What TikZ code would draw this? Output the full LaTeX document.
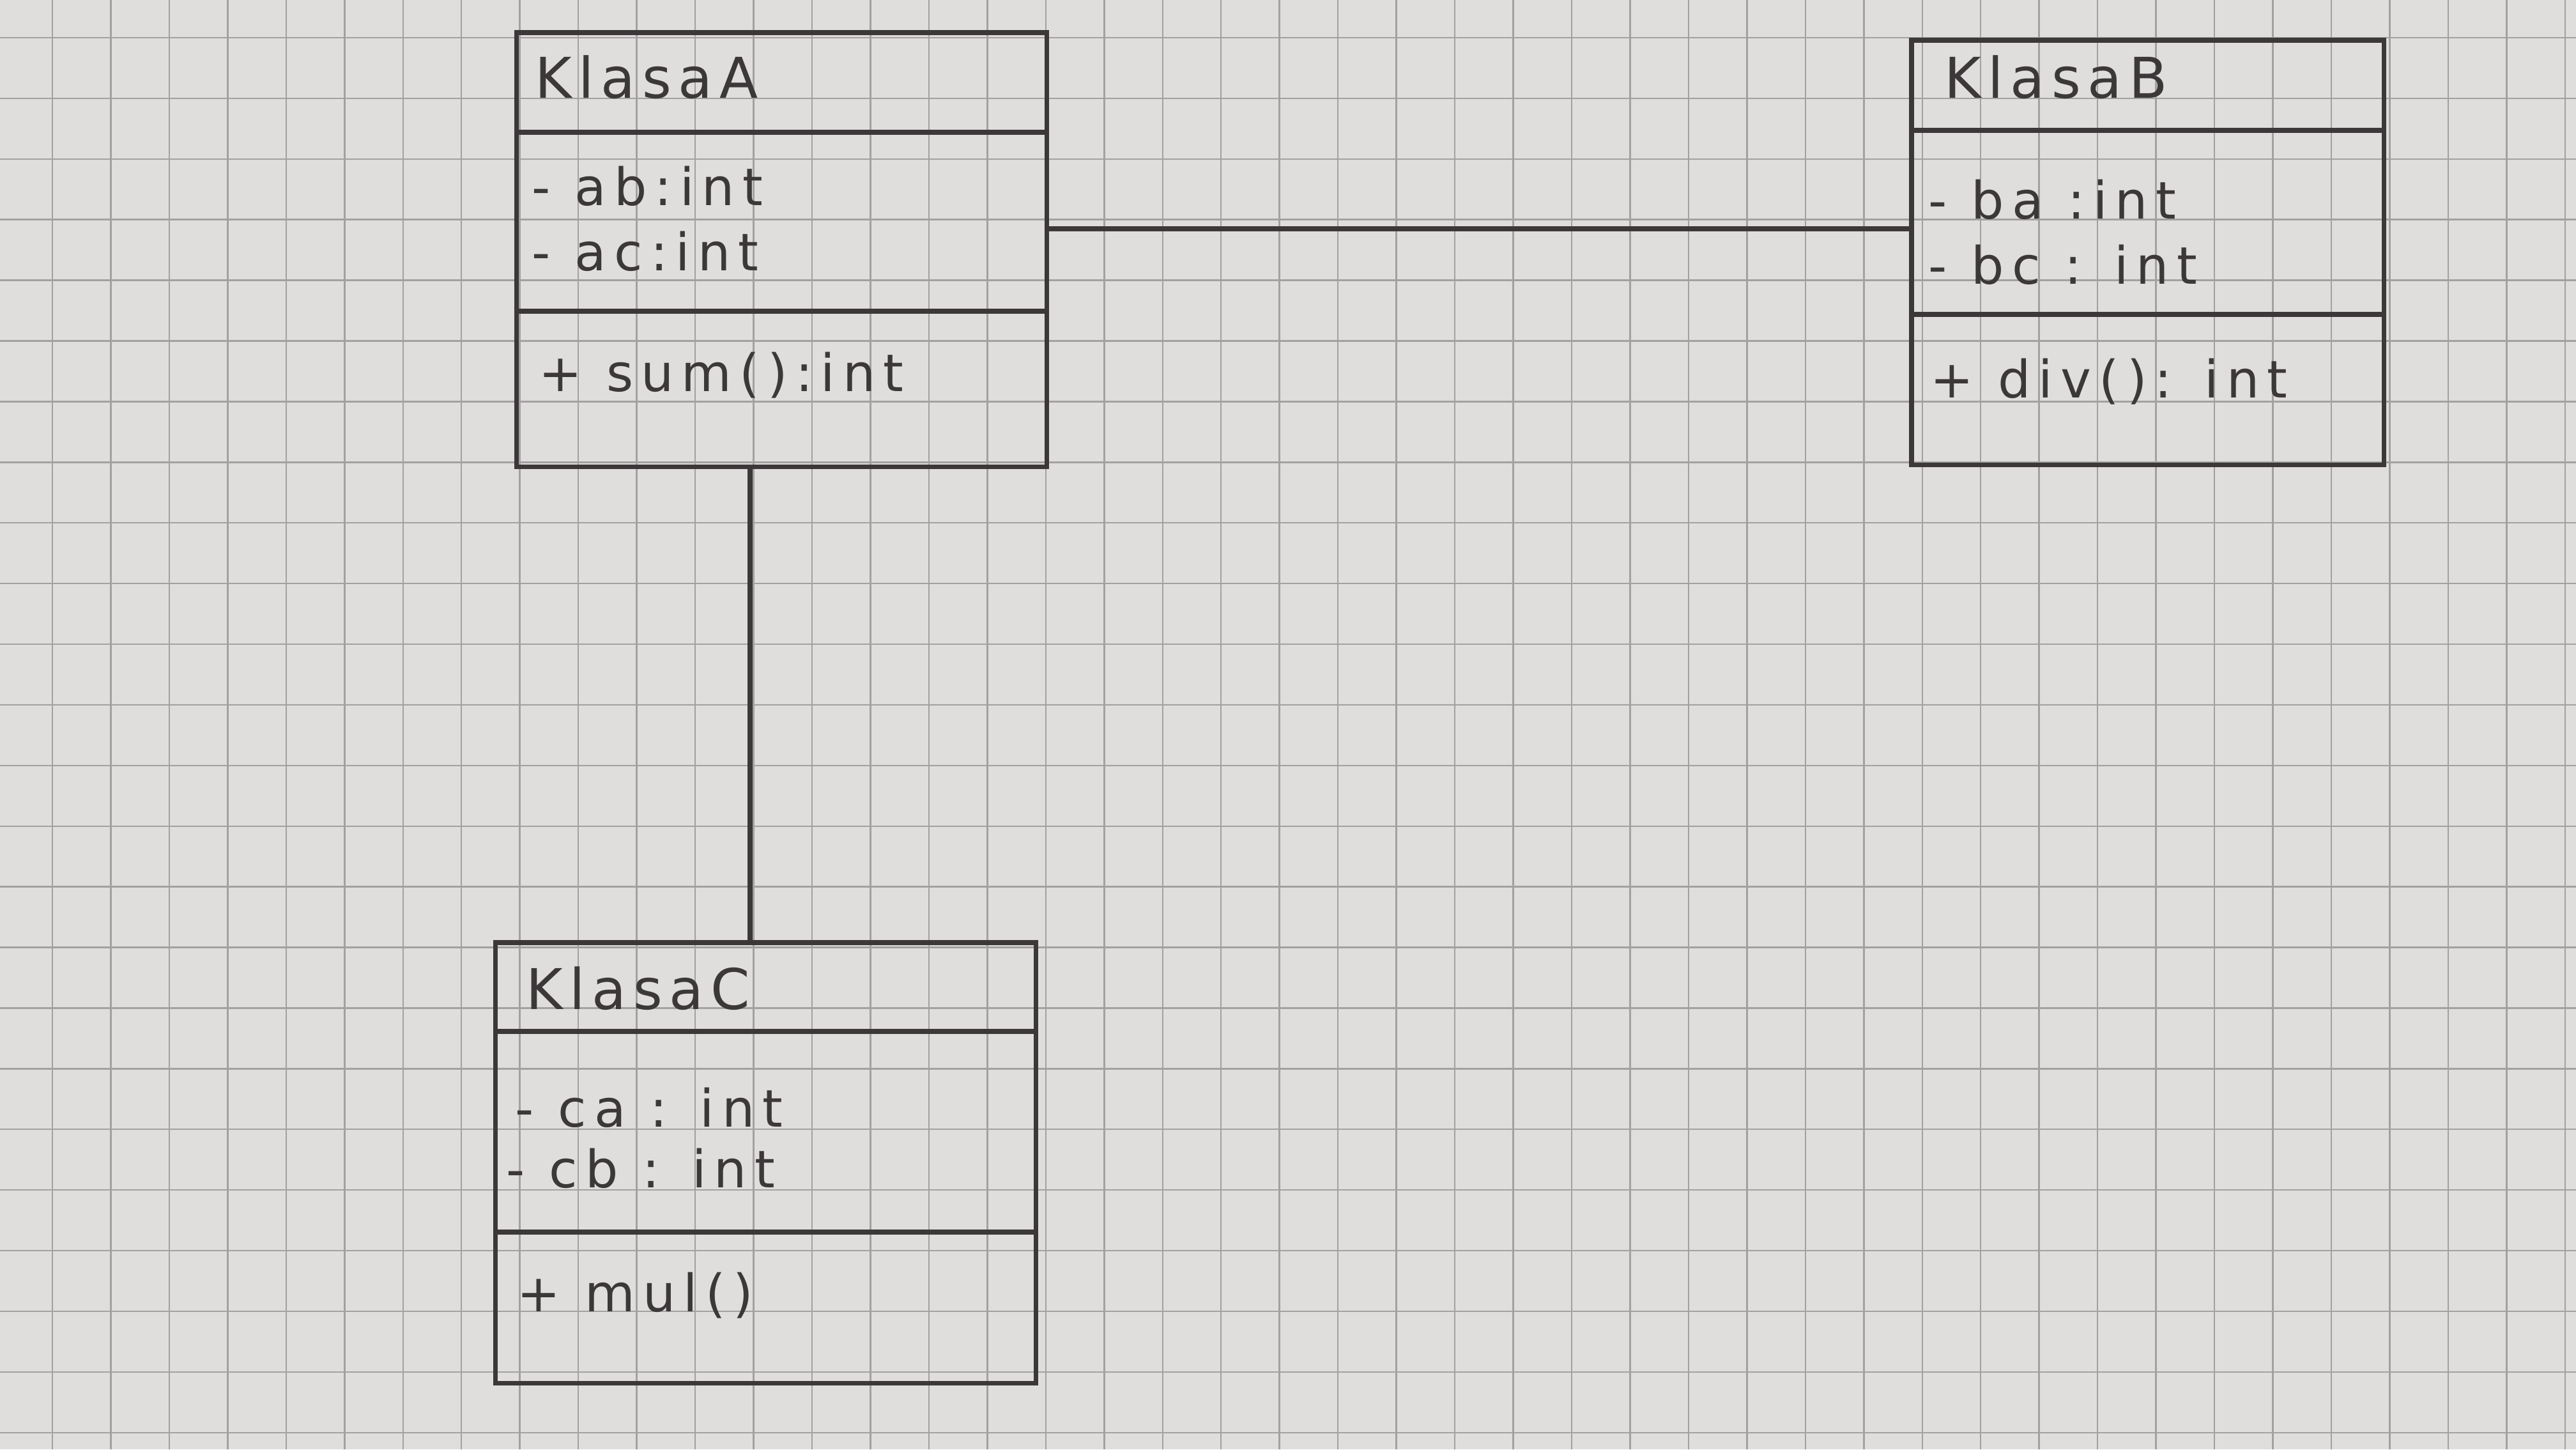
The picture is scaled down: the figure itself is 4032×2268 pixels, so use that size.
\documentclass[tikz,border=0pt]{standalone}
\usepackage{fontspec}
\setmainfont{DejaVu Sans}
\newfontfamily\hand[LetterSpace=15]{DejaVu Sans}
\newfontfamily\handt[LetterSpace=12]{DejaVu Sans}
\usetikzlibrary{calc}
\definecolor{paper}{HTML}{DFDEDC}
\definecolor{gridc}{HTML}{A3A0A2}
\definecolor{ink}{HTML}{3C3839}
\tikzset{
  cls/.style={draw=ink, line width=2.1pt, rectangle, inner sep=0pt},
  conn/.style={draw=ink, line width=2.1pt},
  gridline/.style={draw=gridc, line width=0.7pt},
  txt/.style={anchor=base west, inner sep=0pt, text=ink, font=\hand\fontsize{23}{27}\selectfont},
  ttl/.style={anchor=base west, inner sep=0pt, text=ink, font=\handt\fontsize{25}{30}\selectfont}
}
\begin{document}
\begin{tikzpicture}[x=0.01cm,y=-0.01cm]
\useasboundingbox (0,0) rectangle (4032,2268);
\fill[paper] (0,0) rectangle (4032,2268);
% grid paper
\foreach \i in {0,...,43} \draw[gridline] ({82+91.46*\i},0) -- ({82+91.46*\i},2268);
\foreach \j in {0,...,23} \draw[gridline] (0,{59+94.9*\j}) -- (4032,{59+94.9*\j});

% class boxes
\node[cls, minimum width=8.29cm, minimum height=6.79cm] (A) at (1223.5,390.5) {};
\node[cls, minimum width=7.39cm, minimum height=6.64cm] (B) at (3361.5,395) {};
\node[cls, minimum width=8.45cm, minimum height=6.89cm] (C) at (1198.5,1819.5) {};

% dividers
\draw[conn] (A.west |- 0,207) -- (A.east |- 0,207);
\draw[conn] (A.west |- 0,487) -- (A.east |- 0,487);
\draw[conn] (B.west |- 0,204) -- (B.east |- 0,204);
\draw[conn] (B.west |- 0,492) -- (B.east |- 0,492);
\draw[conn] (C.west |- 0,1614) -- (C.east |- 0,1614);
\draw[conn] (C.west |- 0,1928) -- (C.east |- 0,1928);

% texts
\node[ttl] (At) at (837,153) {KlasaA};
\node[txt] (A1) at (832,321) {- ab:int};
\node[txt] (A2) at (832,423) {- ac:int};
\node[txt] (A3) at (843,612) {+ sum():int};

\node[ttl] (Bt) at (3043,153) {KlasaB};
\node[txt] (B1) at (3018,342) {- ba :int};
\node[txt] (B2) at (3018,444) {- bc : int};
\node[txt] (B3) at (3021,622) {+ div(): int};

\node[ttl] (Ct) at (823,1579) {KlasaC};
\node[txt] (C1) at (806,1763) {- ca : int};
\node[txt] (C2) at (792,1858) {- cb : int};
\node[txt] (C3) at (809,2052) {+ mul()};

% connectors
\draw[conn] (A.east |- 0,358) -- (B.west |- 0,358);
\draw[conn] (A.south -| 1174,0) -- (C.north -| 1174,0);
\end{tikzpicture}
\end{document}
